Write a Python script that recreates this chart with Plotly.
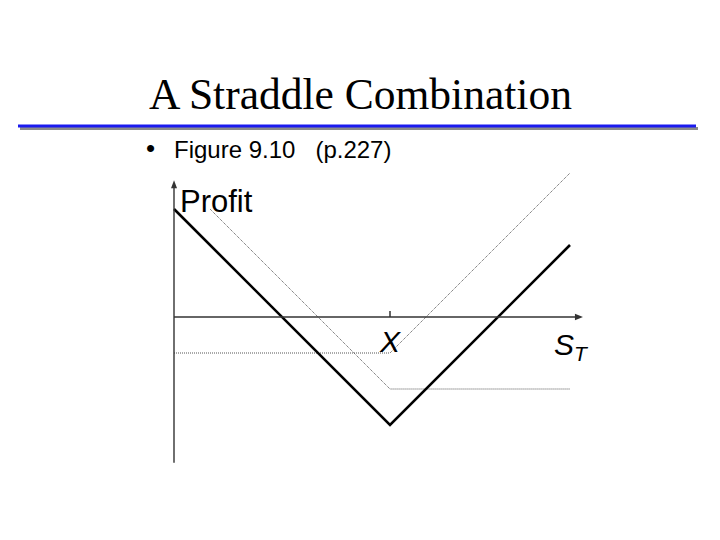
import plotly.graph_objects as go

# ---- data (S_T in arbitrary price units, profit in same units) ----
strike = 60
axis_x_max = 113.6
axis_y_max = 38
axis_y_min = -40.5

call_s = [0, 60, 110]
call_profit = [-10, -10, 40]

put_s = [10, 60, 110]
put_profit = [30, -20, -20]

straddle_s = [0, 60, 110]
straddle_profit = [30, -30, 20]

# ---- pixel mapping helpers (plot area covers whole page) ----
W, H = 720, 540
OFF = 8  # page body margin
X0PX, Y0PX, SCALE = 174, 317, 3.6


def dx(px):
    return (px - X0PX) / SCALE


def dy(py):
    return (Y0PX - py) / SCALE


def tri(points):
    p = [f"{dx(a)},{dy(b)}" for a, b in points]
    return "M" + " L".join(p) + " Z"


fig = go.Figure()

fig.add_trace(go.Scatter(x=call_s, y=call_profit, mode="lines",
                         line=dict(color="#555555", width=1, dash="1px,1px"),
                         hoverinfo="skip", showlegend=False))
fig.add_trace(go.Scatter(x=put_s, y=put_profit, mode="lines",
                         line=dict(color="#555555", width=1, dash="1px,1px"),
                         hoverinfo="skip", showlegend=False))
fig.add_trace(go.Scatter(x=straddle_s, y=straddle_profit, mode="lines",
                         line=dict(color="black", width=2.6),
                         hoverinfo="skip", showlegend=False))

x_tip_px = X0PX + axis_x_max * SCALE
y_tip_px = Y0PX - axis_y_max * SCALE

shapes = [
    # title underline with shadow
    dict(type="line", xref="x", yref="y", x0=dx(20), x1=dx(698), y0=dy(128.5), y1=dy(128.5),
         line=dict(color="#8a8a8a", width=3)),
    dict(type="line", xref="x", yref="y", x0=dx(18), x1=dx(696), y0=dy(126), y1=dy(126),
         line=dict(color="#1a1aee", width=3)),
    # axes
    dict(type="line", xref="x", yref="y", x0=0, x1=dx(x_tip_px - 5), y0=0, y1=0,
         line=dict(color="#333333", width=1.6)),
    dict(type="line", xref="x", yref="y", x0=0, x1=0, y0=axis_y_min, y1=dy(y_tip_px + 5),
         line=dict(color="#333333", width=1.4)),
    dict(type="path", xref="x", yref="y",
         path=tri([(x_tip_px, Y0PX), (x_tip_px - 8, Y0PX - 3.2), (x_tip_px - 8, Y0PX + 3.2)]),
         fillcolor="#333333", line=dict(width=0)),
    dict(type="path", xref="x", yref="y",
         path=tri([(X0PX, y_tip_px), (X0PX - 3, y_tip_px + 8), (X0PX + 3, y_tip_px + 8)]),
         fillcolor="#333333", line=dict(width=0)),
    # tick at strike
    dict(type="line", xref="x", yref="y", x0=strike, x1=strike, y0=0, y1=dy(311),
         line=dict(color="#333333", width=1.5)),
]

annotations = [
    # title
    dict(x=dx(147), y=dy(94), xref="x", yref="y", text="A Straddle Combination",
         showarrow=False, xanchor="left", yanchor="middle",
         font=dict(family="Liberation Serif", size=43.5, color="black")),
    # bullet
    dict(x=dx(150), y=dy(148), xref="x", yref="y", text="•",
         showarrow=False, xanchor="center", yanchor="middle",
         font=dict(family="Liberation Sans", size=26, color="black")),
    dict(x=dx(172), y=dy(149), xref="x", yref="y",
         text="Figure 9.10\u00a0\u00a0\u00a0(p.227)",
         showarrow=False, xanchor="left", yanchor="middle",
         font=dict(family="Liberation Sans", size=24, color="black")),
    # axis labels
    dict(x=dx(178), y=dy(201), xref="x", yref="y", text="Profit",
         showarrow=False, xanchor="left", yanchor="middle",
         font=dict(family="Liberation Sans", size=31, color="black")),
    dict(x=strike, y=dy(341), xref="x", yref="y", text="<i>X</i>",
         showarrow=False, xanchor="center", yanchor="middle",
         font=dict(family="Liberation Sans", size=30, color="black")),
    dict(x=dx(552), y=dy(346), xref="x", yref="y", text="<i>S<sub>T</sub></i>",
         showarrow=False, xanchor="left", yanchor="middle",
         font=dict(family="Liberation Sans", size=30, color="black")),
]

fig.update_layout(
    width=W, height=H,
    margin=dict(l=0, r=0, t=0, b=0),
    paper_bgcolor="white", plot_bgcolor="white",
    xaxis=dict(range=[dx(OFF), dx(W + OFF)], visible=False, fixedrange=True),
    yaxis=dict(range=[dy(H + OFF), dy(OFF)], visible=False, fixedrange=True),
    shapes=shapes, annotations=annotations,
)

fig.write_html("out.html")
